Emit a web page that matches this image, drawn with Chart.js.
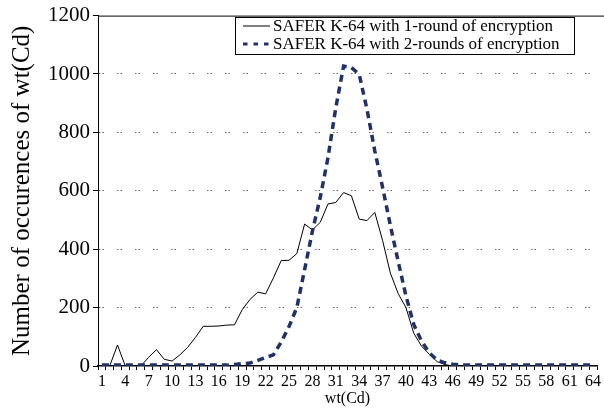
<!DOCTYPE html>
<html>
<head>
<meta charset="utf-8">
<script src="https://cdn.jsdelivr.net/npm/chart.js@4/dist/chart.umd.min.js"></script>
<style>
    html, body { margin: 0; padding: 0; background: #fff; }
    #wrap { width: 604px; height: 412px; }
</style>
</head>
<body>
<div id="wrap"><canvas id="wtChart" width="604" height="412"></canvas></div>
<script>
const categories = [1, 2, 3, 4, 5, 6, 7, 8, 9, 10, 11, 12, 13, 14, 15, 16, 17, 18, 19, 20,
    21, 22, 23, 24, 25, 26, 27, 28, 29, 30, 31, 32, 33, 34, 35, 36, 37, 38, 39, 40,
    41, 42, 43, 44, 45, 46, 47, 48, 49, 50, 51, 52, 53, 54, 55, 56, 57, 58, 59, 60,
    61, 62, 63, 64];

const oneRound = [0, 0, 72, 0, 0, 0, 30, 56, 23, 17,
    38, 64, 98, 136, 136, 137, 140, 141, 193, 228,
    253, 247, 302, 361, 362, 385, 486, 466, 492, 555,
    560, 594, 583, 503, 498, 526, 430, 318, 248, 200,
    112, 68, 40, 15, 5, 0, 0, 0, 0, 0,
    0, 0, 0, 0, 0, 0, 0, 0, 0, 0,
    0, 0, 0, 0];

const twoRounds = [3, 3, 3, 3, 3, 3, 3, 3, 3, 3,
    3, 3, 3, 3, 3, 3, 3, 5, 8, 10,
    19, 29, 38, 82, 135, 200, 330, 462, 577, 714,
    885, 1027, 1022, 999, 879, 737, 612, 481, 358, 240,
    142, 85, 45, 20, 11, 6, 3, 3, 3, 3,
    3, 3, 3, 3, 3, 3, 3, 3, 3, 3,
    3, 3, 3, 3];

const yTicks = [0, 200, 400, 600, 800, 1000, 1200];

const seriesNames = [
    'SAFER K-64 with 1-round of encryption',
    'SAFER K-64 with 2-rounds of encryption'
];

const serif = "'Liberation Serif', 'Times New Roman', serif";

// top border of the plot + boxed legend inside the plot
const framePlugin = {
    id: 'frame',
    afterDraw(chart) {
        const ctx = chart.ctx;
        const area = chart.chartArea;
        ctx.save();
        ctx.strokeStyle = '#000';
        ctx.lineWidth = 1;
        ctx.beginPath();
        ctx.moveTo(area.left, area.top + 0.5);
        ctx.lineTo(chart.width, area.top + 0.5);
        ctx.stroke();

        // legend box
        const bx = 235.5, by = 17.5, bw = 339, bh = 37;
        ctx.fillStyle = '#fff';
        ctx.fillRect(bx, by, bw, bh);
        ctx.strokeRect(bx, by, bw, bh);

        const rows = [26, 44];
        chart.data.datasets.forEach((ds, i) => {
            const y = rows[i];
            ctx.save();
            ctx.strokeStyle = ds.borderColor;
            ctx.lineWidth = i === 0 ? 1 : 3;
            ctx.setLineDash(i === 0 ? [] : [4.5, 6]);
            ctx.beginPath();
            ctx.moveTo(243, y);
            ctx.lineTo(270, y);
            ctx.stroke();
            ctx.restore();
            ctx.fillStyle = '#000';
            ctx.font = '17px ' + serif;
            ctx.textBaseline = 'middle';
            ctx.fillText(ds.label, 273, y + 1);
        });
        ctx.restore();
    }
};

const ctx = document.getElementById('wtChart').getContext('2d');
const wtChart = new Chart(ctx, {
    type: 'line',
    data: {
        labels: categories,
        datasets: [{
            label: seriesNames[0],
            data: oneRound,
            borderColor: '#000',
            borderWidth: 1,
            pointRadius: 0,
            tension: 0,
            fill: false,
            order: 1
        }, {
            label: seriesNames[1],
            data: twoRounds,
            borderColor: '#1f3169',
            borderWidth: 3.5,
            borderDash: [7, 5],
            pointRadius: 0,
            tension: 0,
            fill: false,
            order: 0
        }]
    },
    options: {
        responsive: false,
        animation: false,
        layout: {
            padding: { top: 15, right: 7, left: 0, bottom: 0 }
        },
        plugins: {
            legend: { display: false },
            tooltip: { enabled: false }
        },
        scales: {
            x: {
                type: 'category',
                offset: true,
                afterFit: (scale) => { scale.height = 46; },
                grid: {
                    display: true,
                    drawOnChartArea: false,
                    color: '#000',
                    tickLength: 4,
                    offset: true
                },
                border: { display: true, color: '#000', width: 1.5 },
                ticks: {
                    autoSkip: false,
                    maxRotation: 0,
                    padding: 2,
                    color: '#000',
                    font: { family: serif, size: 16 },
                    callback: function (value, index) {
                        return index % 3 === 0 ? categories[index] : '';
                    }
                },
                title: {
                    display: true,
                    text: 'wt(Cd)',
                    color: '#000',
                    font: { family: serif, size: 16 },
                    padding: { top: 0, bottom: 4 }
                }
            },
            y: {
                min: yTicks[0],
                max: yTicks[yTicks.length - 1],
                afterFit: (scale) => { scale.width = 98; },
                afterBuildTicks: (scale) => {
                    scale.ticks = yTicks.map(v => ({ value: v }));
                },
                grid: {
                    color: (c) => (c.tick && (c.tick.value === 0 || c.tick.value === 1200)) ? 'rgba(0,0,0,0)' : '#666',
                    tickColor: '#000',
                    tickLength: 5,
                    lineWidth: 1
                },
                border: { display: true, color: '#000', width: 1, dash: [1.5, 2, 1.5, 13] },
                ticks: {
                    padding: 3,
                    color: '#000',
                    font: { family: serif, size: 21 },
                    callback: (value) => String(value)
                },
                title: {
                    display: true,
                    text: 'Number of occurences of wt(Cd)',
                    color: '#000',
                    font: { family: serif, size: 25 },
                    padding: { top: 7, bottom: 0 }
                }
            }
        }
    },
    plugins: [framePlugin]
});
</script>
</body>
</html>
